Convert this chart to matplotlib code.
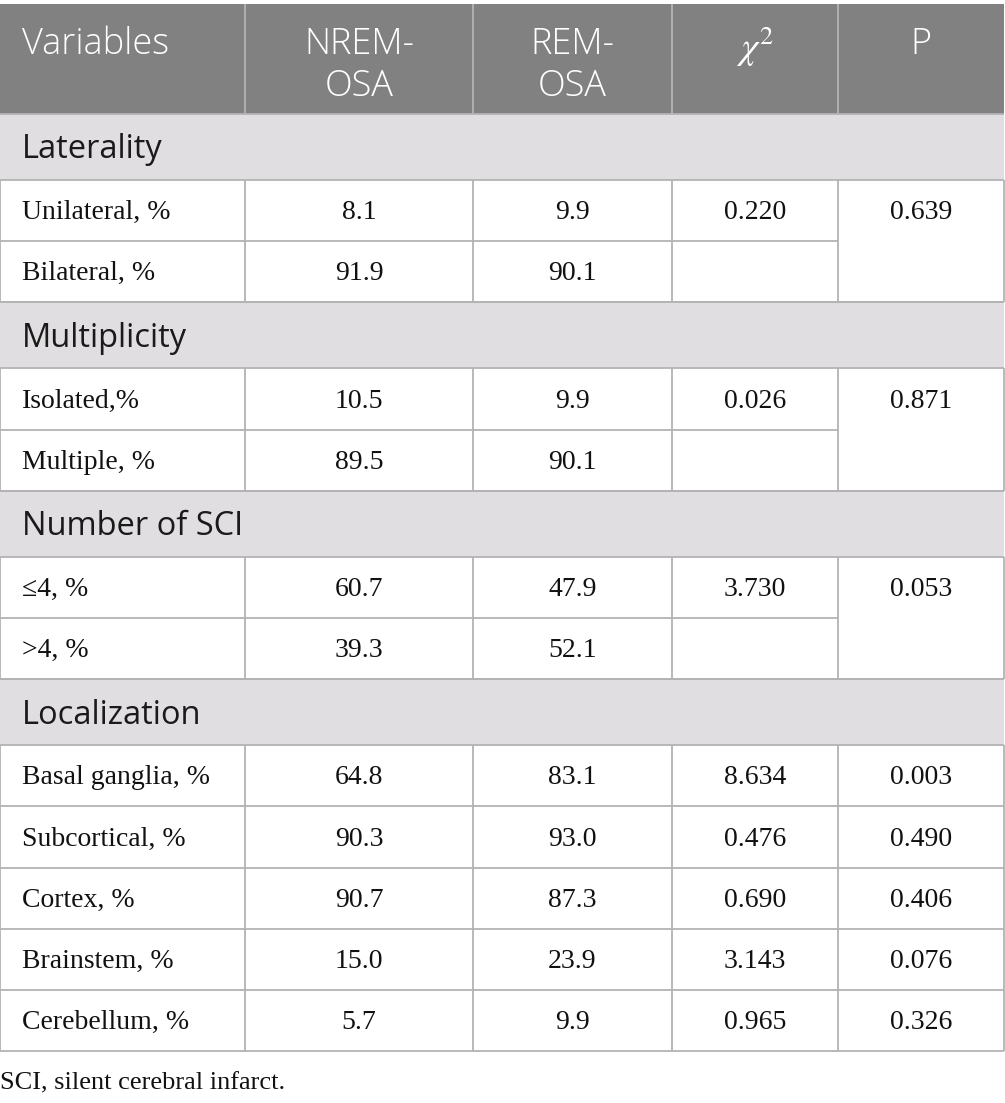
import matplotlib
matplotlib.use("Agg")
import matplotlib.pyplot as plt
from matplotlib.patches import Rectangle

# table content
headers = ["Variables", "NREM-\nOSA", "REM-\nOSA", r"$\chi^2$", "P"]
section_names = ["Laterality", "Multiplicity", "Number of SCI", "Localization"]
row_labels = [
    ["Unilateral, %", "Bilateral, %"],
    ["Isolated,%", "Multiple, %"],
    ["\u22644, %", ">4, %"],
    ["Basal ganglia, %", "Subcortical, %", "Cortex, %", "Brainstem, %", "Cerebellum, %"],
]
nrem_osa = [[8.1, 91.9], [10.5, 89.5], [60.7, 39.3], [64.8, 90.3, 90.7, 15.0, 5.7]]
rem_osa = [[9.9, 90.1], [9.9, 90.1], [47.9, 52.1], [83.1, 93.0, 87.3, 23.9, 9.9]]
chi_sq = [[0.220], [0.026], [3.730], [8.634, 0.476, 0.690, 3.143, 0.965]]
p_value = [[0.639], [0.871], [0.053], [0.003, 0.490, 0.406, 0.076, 0.326]]
footnote = "SCI, silent cerebral infarct."

# layout (pixels)
W, H = 1005, 1103
col_x = [0, 245, 473, 672, 838, 1004]
top = 4
head_h = 110
sec_h = 66
row_h = 61.2

head_bg = "#808180"
sec_bg = "#e0dee0"
line_c = "#b3b3b3"
txt_c = "#111111"
sans = ["Open Sans", "DejaVu Sans"]
serif = ["Liberation Serif", "DejaVu Serif"]
plt.rcParams["mathtext.fontset"] = "stix"

fig = plt.figure(figsize=(W / 100, H / 100), dpi=100)
ax = fig.add_axes([0, 0, 1, 1])
ax.set_xlim(0, W)
ax.set_ylim(H, 0)
ax.axis("off")

def hline(y, x0, x1):
    ax.plot([x0, x1], [y, y], color=line_c, lw=1.3, solid_capstyle="butt")

def vline(x, y0, y1):
    ax.plot([x, x], [y0, y1], color=line_c, lw=1.3, solid_capstyle="butt")

# header
ax.add_patch(Rectangle((0, top), W - 1, head_h, color=head_bg, lw=0))
for i, h in enumerate(headers):
    cx = (col_x[i] + col_x[i + 1]) / 2
    if i == 0:
        ax.text(22, top + 40, h, ha="left", va="center", color="white",
                fontsize=26, family=sans, weight="light")
    elif "\n" in h:
        for k, part in enumerate(h.split("\n")):
            ax.text(cx, top + 40 + 42 * k, part, ha="center", va="center",
                    color="white", fontsize=26, family=sans, weight="light")
    elif i == 3:
        ax.text(cx, top + 43, h, ha="center", va="center", color="white",
                fontsize=27)
    else:
        ax.text(cx, top + 40, h, ha="center", va="center", color="white",
                fontsize=26, family=sans, weight="light")
for x in col_x[1:-1]:
    vline(x, top, top + head_h)

y = top + head_h
for s, name in enumerate(section_names):
    ax.add_patch(Rectangle((0, y), W - 1, sec_h, color=sec_bg, lw=0))
    hline(y, 0, W - 1)
    ax.text(22, y + sec_h / 2 + 3, name, ha="left", va="center", color="#1a1a1a",
            fontsize=23.5, family=sans)
    y += sec_h
    hline(y, 0, W - 1)
    n = len(row_labels[s])
    merged = len(p_value[s]) < n
    block_top = y
    for r in range(n):
        yc = y + row_h / 2 + 2
        ax.text(22, yc, row_labels[s][r], ha="left", va="center", color=txt_c,
                fontsize=20, family=serif)
        ax.text((col_x[1] + col_x[2]) / 2, yc, f"{nrem_osa[s][r]:.1f}", ha="center",
                va="center", color=txt_c, fontsize=20, family=serif)
        ax.text((col_x[2] + col_x[3]) / 2, yc, f"{rem_osa[s][r]:.1f}", ha="center",
                va="center", color=txt_c, fontsize=20, family=serif)
        if r < len(chi_sq[s]):
            ax.text((col_x[3] + col_x[4]) / 2, yc, f"{chi_sq[s][r]:.3f}", ha="center",
                    va="center", color=txt_c, fontsize=20, family=serif)
        if r < len(p_value[s]):
            ax.text((col_x[4] + col_x[5]) / 2, yc, f"{p_value[s][r]:.3f}", ha="center",
                    va="center", color=txt_c, fontsize=20, family=serif)
        y += row_h
        if r < n - 1:
            hline(y, 0, col_x[4] if merged else W - 1)
        else:
            hline(y, 0, W - 1)
    for x in col_x:
        vline(x, block_top, y)

ax.text(0, y + 38, footnote, ha="left", va="baseline", color=txt_c,
        fontsize=19, family=serif)

fig.savefig("out.png", dpi=100)
